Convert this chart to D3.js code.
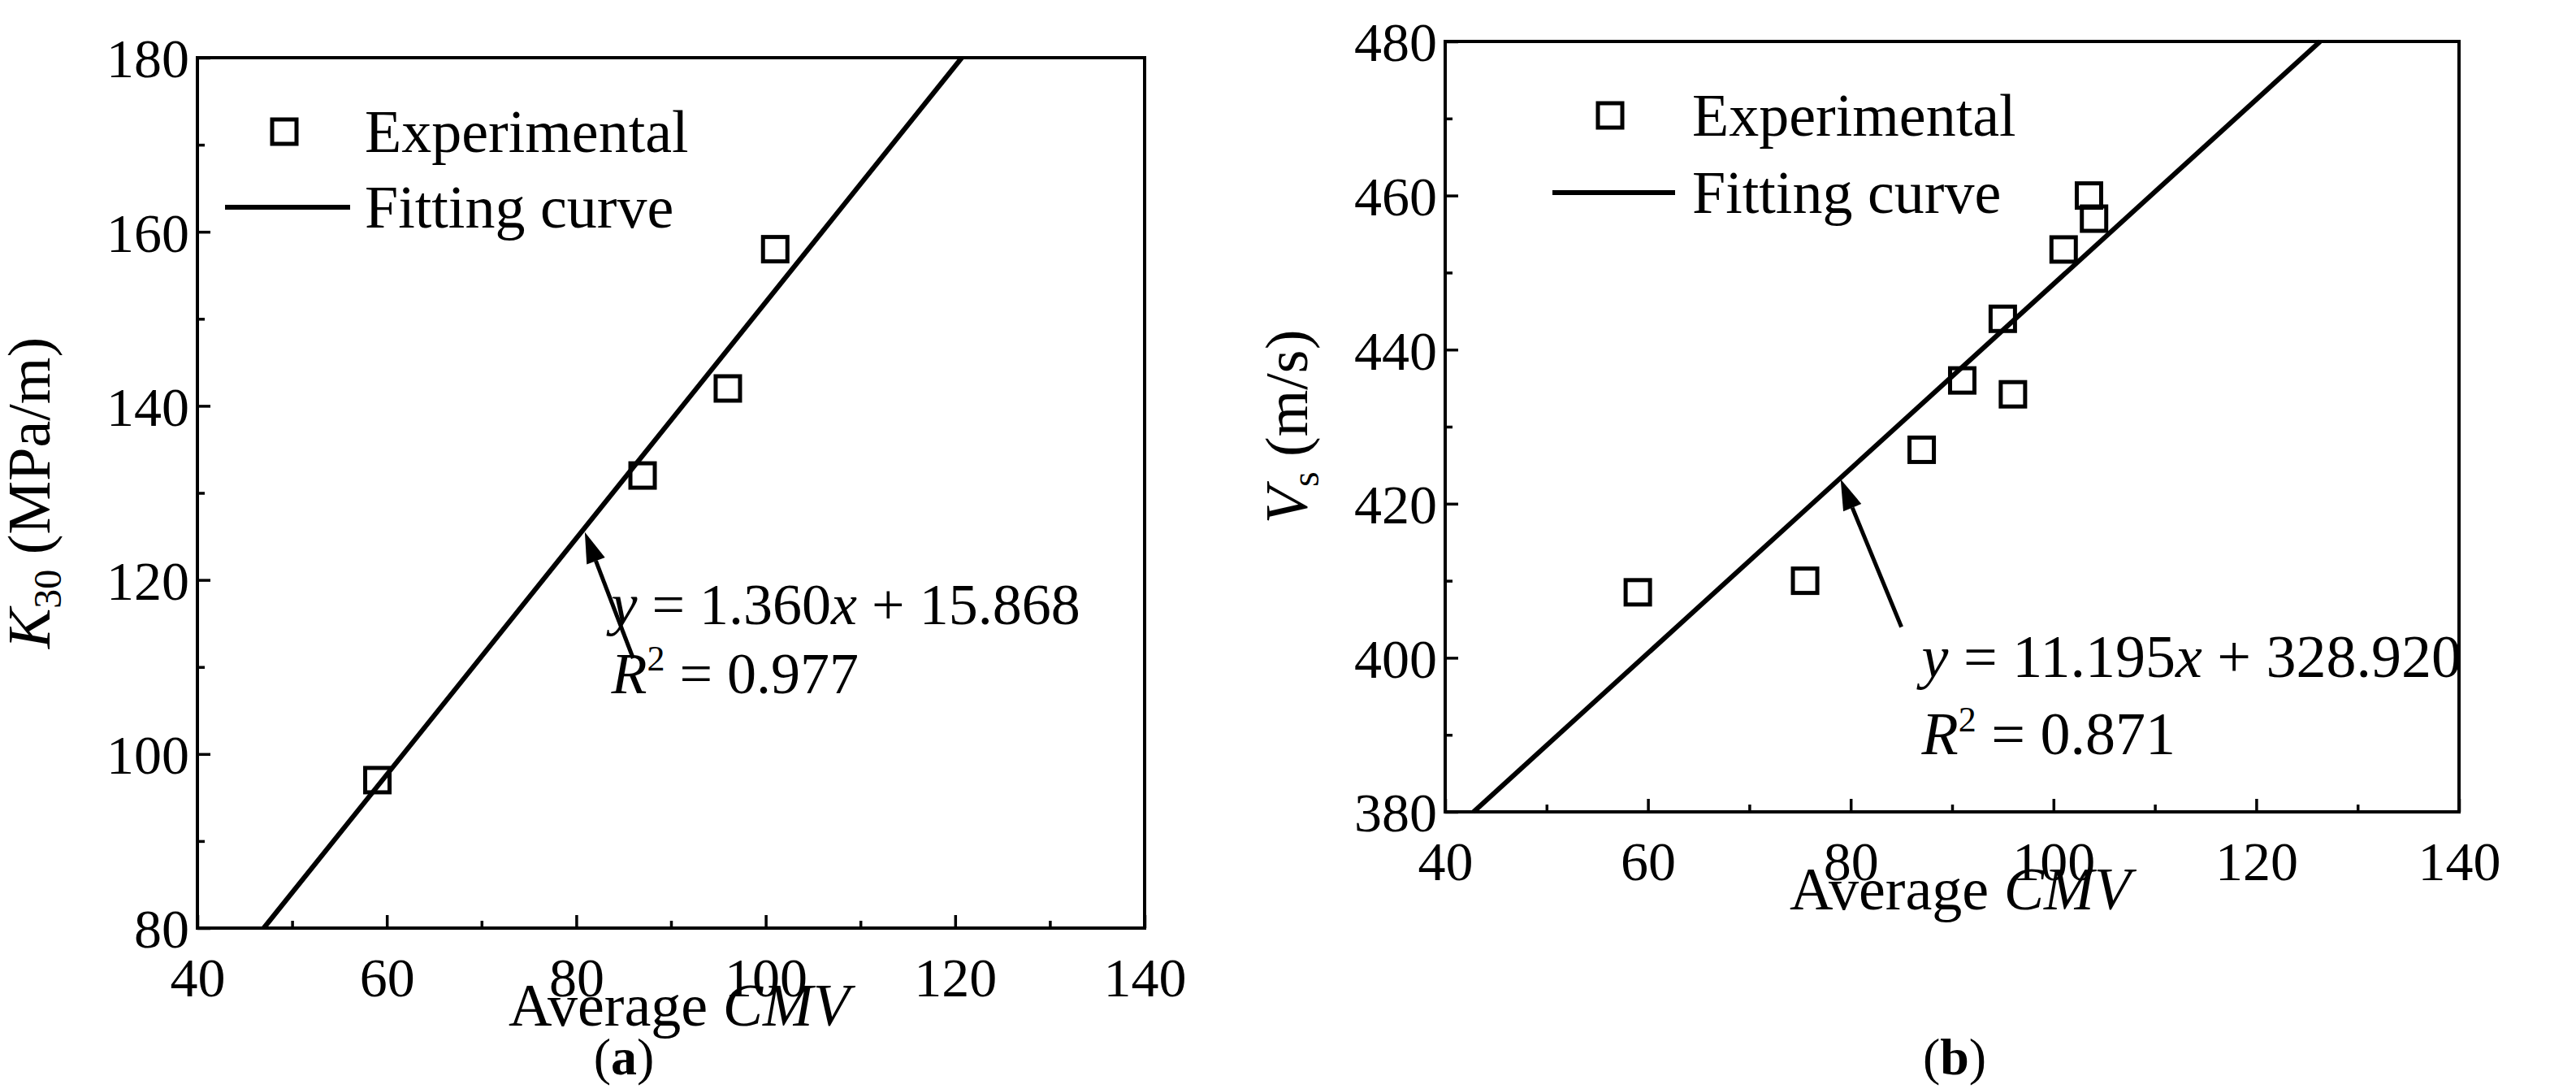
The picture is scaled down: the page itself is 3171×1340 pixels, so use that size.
<!DOCTYPE html>
<html><head><meta charset="utf-8">
<script src="https://cdn.jsdelivr.net/npm/d3@7"></script>
<style>body{margin:0;background:#fff}text{font-family:"Liberation Serif","Times New Roman",serif;fill:#000}</style>
</head><body>
<script>
// panel (a)
const aX = [59, 87, 96, 101];
const aY = [97, 132, 142, 158];
const aFit = [[47, 80], [120.7, 180]];
const aYTicks = [80, 100, 120, 140, 160, 180];
// panel (b)
const bX = [59, 75.5, 87, 91, 95, 96, 101, 103.5, 104];
const bY = [408.5, 410, 427, 436, 444, 434.2, 453, 460, 457];
const bFit = [[42.8, 380], [126.3, 480]];
const bYTicks = [380, 400, 420, 440, 460, 480];
const xTicks = [40, 60, 80, 100, 120, 140];

const svg = d3.select("body").append("svg").attr("width", 3171).attr("height", 1340);

function panel(o) {
  const x = d3.scaleLinear().domain([40, 140]).range([o.l, o.r]);
  const y = d3.scaleLinear().domain(o.yDom).range([o.b, o.t]);
  const g = svg.append("g");
  const ystep = (o.yDom[1] - o.yDom[0]) / 10;

  const xa = g.append("g").attr("transform", "translate(0," + o.b + ")")
    .call(d3.axisBottom(x).tickValues(d3.range(40, 141, 10)).tickSize(-16).tickPadding(36)
      .tickFormat(d => xTicks.includes(d) ? d : ""));
  xa.selectAll("line").attr("y2", d => xTicks.includes(d) ? -16 : -9);
  const ya = g.append("g").attr("transform", "translate(" + o.l + ",0)")
    .call(d3.axisLeft(y).tickValues(d3.range(o.yDom[0], o.yDom[1] + 0.1, ystep)).tickSize(-16).tickPadding(10)
      .tickFormat(d => o.yTicks.includes(Math.round(d)) ? Math.round(d) : ""));
  ya.selectAll("line").attr("x2", d => o.yTicks.includes(Math.round(d)) ? 16 : 9);
  [xa, ya].forEach(a => {
    a.select(".domain").remove();
    a.selectAll("line").attr("stroke", "#000").attr("stroke-width", 3.5);
    a.selectAll("text").style("font-size", "68px").attr("font-family", null);
  });
  ya.selectAll("text").attr("dy", "0.35em");
  g.append("rect").attr("x", o.l).attr("y", o.t).attr("width", o.r - o.l).attr("height", o.b - o.t)
    .attr("fill", "none").attr("stroke", "#000").attr("stroke-width", 4);

  // fit line
  g.append("line").attr("x1", x(o.fit[0][0])).attr("y1", y(o.fit[0][1]))
    .attr("x2", x(o.fit[1][0])).attr("y2", y(o.fit[1][1])).attr("stroke", "#000").attr("stroke-width", 6);
  // points
  g.selectAll(".pt").data(o.xs.map((v, i) => [v, o.ys[i]])).join("rect")
    .attr("x", d => x(d[0]) - 15).attr("y", d => y(d[1]) - 15).attr("width", 30).attr("height", 30)
    .attr("fill", "none").attr("stroke", "#000").attr("stroke-width", 5);

  // arrow
  const hx = x(o.arrow[0][0]), hy = y(o.arrow[0][1]), tx = x(o.arrow[1][0]), ty = y(o.arrow[1][1]);
  const ang = Math.atan2(hy - ty, hx - tx), L = 38, W = 12;
  const bx = hx - L * Math.cos(ang), by = hy - L * Math.sin(ang);
  g.append("line").attr("x1", tx).attr("y1", ty).attr("x2", bx).attr("y2", by).attr("stroke", "#000").attr("stroke-width", 5);
  g.append("path").attr("d", `M${hx},${hy}L${bx + W * Math.sin(ang)},${by - W * Math.cos(ang)}L${bx - W * Math.sin(ang)},${by + W * Math.cos(ang)}Z`).attr("fill", "#000");

  // equation
  const eq = g.append("text").attr("x", x(o.eqPos[0])).attr("y", y(o.eqPos[1])).style("font-size", o.eqFont + "px");
  eq.append("tspan").attr("font-style", "italic").text("y");
  eq.append("tspan").text(" = " + o.eq[0]);
  eq.append("tspan").attr("font-style", "italic").text("x");
  eq.append("tspan").text(" + " + o.eq[1]);
  const r2 = g.append("text").attr("x", x(o.eqPos[0])).attr("y", y(o.eqPos[2])).style("font-size", o.eqFont + "px");
  r2.append("tspan").attr("font-style", "italic").text("R");
  r2.append("tspan").attr("dy", -28).style("font-size", "44px").text("2");
  r2.append("tspan").attr("dy", 28).text(" = " + o.r2);

  // legend
  g.append("rect").attr("x", o.leg[0] - 15).attr("y", o.leg[1] - 15).attr("width", 30).attr("height", 30)
    .attr("fill", "none").attr("stroke", "#000").attr("stroke-width", 5);
  g.append("text").attr("x", o.leg[2]).attr("y", o.leg[1] + 25).style("font-size", "74px").text("Experimental");
  g.append("line").attr("x1", o.leg[3]).attr("x2", o.leg[4]).attr("y1", o.leg[5]).attr("y2", o.leg[5])
    .attr("stroke", "#000").attr("stroke-width", 6);
  g.append("text").attr("x", o.leg[2]).attr("y", o.leg[5] + 25).style("font-size", "74px").text("Fitting curve");

  // axis titles
  const xt = g.append("text").attr("x", (o.l + o.r) / 2 + 10).attr("y", o.b + 120).attr("text-anchor", "middle").style("font-size", "74px");
  xt.append("tspan").text("Average ");
  xt.append("tspan").attr("font-style", "italic").text("CMV");
  const yt = g.append("text").attr("transform", `translate(${o.l - o.yOff},${(o.t + o.b) / 2}) rotate(-90)`)
    .attr("text-anchor", "middle").style("font-size", "74px");
  yt.append("tspan").attr("font-style", "italic").text(o.yLab[0]);
  yt.append("tspan").attr("dy", 14).style("font-size", "48px").text(o.yLab[1]);
  yt.append("tspan").attr("dy", -14).text(" " + o.yLab[2]);

  // panel label
  const pl = g.append("text").attr("x", o.pl[0]).attr("y", o.pl[1]).attr("text-anchor", "middle")
    .style("font-size", "64px").attr("font-family", "'DejaVu Serif', serif");
  pl.append("tspan").text("(");
  pl.append("tspan").attr("font-weight", "bold").text(o.pl[2]);
  pl.append("tspan").text(")");
}

panel({ l: 243, r: 1409, t: 71, b: 1142, yDom: [80, 180], yTicks: aYTicks, xs: aX, ys: aY, fit: aFit,
  arrow: [[80.9, 125.5], [86, 111]], eq: ["1.360", "15.868"], r2: "0.977", eqPos: [83.7, 114.9, 107], eqFont: 72,
  leg: [350, 162, 449, 277, 431, 255], yLab: ["K", "30", "(MPa/m)"], yOff: 182, pl: [768, 1322, "a"] });
panel({ l: 1779, r: 3027, t: 51, b: 999, yDom: [380, 480], yTicks: bYTicks, xs: bX, ys: bY, fit: bFit,
  arrow: [[79, 423.2], [85, 404]], eq: ["11.195", "328.920"], r2: "0.871", eqPos: [87.0, 397.5, 387.5], eqFont: 74,
  leg: [1982, 142, 2083, 1911, 2062, 237], yLab: ["V", "s", "(m/s)"], yOff: 170, pl: [2406, 1322, "b"] });
</script>
</body></html>
